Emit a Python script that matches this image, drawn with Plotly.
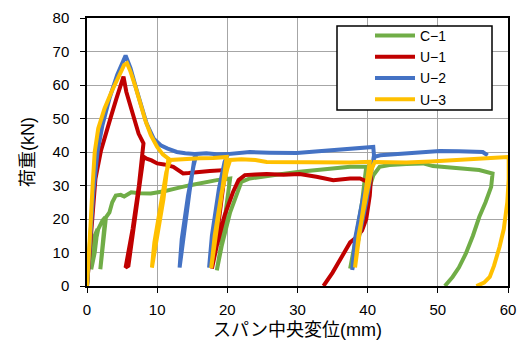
import plotly.graph_objects as go

# ---- data ----
c1_x = [0, 0.3, 0.9, 1.5, 1.1, 0.6, 1.0, 1.6, 2.2, 2.6, 2.3, 1.9, 2.2, 2.7, 3.2, 3.6, 4.1, 4.8, 5.3, 6.3, 7.5, 9.1,
        11.0, 11.85, 13.0, 14.7, 16.5, 18.5, 20.4,
        19.8, 19.1, 18.5, 19.2, 20.4, 22.0, 23.2, 25.0, 27.0, 30.3, 32.7, 35.0, 37.5, 39.8,
        39.2, 38.3, 37.5, 38.3, 39.6, 40.8, 41.7, 43.1, 45.5, 47.9, 49.3, 52.6, 55.9, 57.8,
        57.6, 56.8, 55.9, 55.0, 54.0, 53.0, 52.1, 51.0]
c1_y = [0, 8, 14, 17, 10, 5, 11, 17, 19.5, 20.5, 14, 5, 12, 20.5, 22, 25, 27, 27.2, 26.7, 28, 27.7, 27.6,
        28.3, 28.6, 29.3, 30.1, 30.9, 31.6, 32.1,
        22, 12, 4.7, 12, 22, 31.1, 32.1, 32.7, 33.2, 34.1, 34.6, 35.0, 35.6, 35.6,
        25, 14, 5.2, 14, 25, 33, 35.6, 36.1, 36.4, 36.6, 35.8, 35.1, 34.6, 33.6,
        29.6, 25, 20.6, 15, 9.7, 5.5, 2.7, 0]

u1_x = [0, 0.3, 0.7, 1.2, 2.0, 2.7, 3.4, 4.2, 5.07, 5.2, 5.6, 6.2, 6.8, 7.35, 8.05,
        7.4, 6.5, 5.5, 5.9, 6.8, 7.5, 8.05, 8.5, 9.2, 10.0, 11.0, 12.3, 13.0, 13.7, 14.5, 15.6, 17.5, 19.7,
        19.1, 18.4, 17.8, 18.5, 19.6, 20.8, 21.6, 22.5, 24.0, 25.6, 28.0, 30.3, 32.7, 35.1, 37.5, 38.9, 40.0,
        40.5, 40.3, 39.8, 39.2, 38.4, 37.5, 36.0, 35.0, 33.7]
u1_y = [0, 8, 20, 32, 40.5, 46, 50.5, 56, 61, 62.5, 58, 53.5, 49, 45.5, 42.6,
        30, 17, 5.5, 6, 20, 31, 38.6, 38, 37.5, 36.6, 36.3, 35.6, 34.5, 33.6, 33.7, 34, 34.3, 34.6,
        24, 13, 5.2, 12, 21, 28, 31.6, 33.1, 33.3, 33.4, 33.2, 33.4, 32.6, 31.6, 32.1, 32.1, 31.1,
        33, 27, 20, 16.6, 14.5, 13.0, 7.7, 4, 0]

u2_x = [0, 0.4, 0.9, 1.5, 2.2, 3.2, 4.3, 5.5, 6.2, 7.0, 7.8, 8.5, 9.5, 10.5, 11.5, 12.8, 14.0, 15.4,
        14.6, 13.8, 13.2, 13.5, 14.4, 15.2, 15.6, 17.0, 18.5, 19.9,
        19.0, 18.1, 17.4, 17.8, 18.8, 19.6, 20.1, 21.5, 23.2, 26.0, 29.9, 33.0, 35.0, 37.5, 39.0, 40.8, 40.9,
        39.8, 38.6, 37.8, 38.2, 39.4, 40.6, 41.0, 41.8, 43.5, 45.5, 48.0, 50.3, 53.0, 56.4, 57.1]
u2_y = [0, 12, 28, 40, 48, 56, 63, 68.8, 65, 59, 53, 48.5, 44, 42, 41, 40, 39.6, 39.4,
        28, 15, 5.5, 14, 27, 36, 39.4, 39.6, 39.3, 39.4,
        26, 14, 5.5, 15, 29, 37, 39.4, 39.6, 40, 39.8, 39.7, 40.2, 40.5, 41.1, 41.2, 41.5, 39,
        25, 13, 4.8, 14, 27, 36, 38.6, 39, 39.3, 39.6, 40, 40.3, 40.2, 40, 39]

u3_x = [0, 0.2, 0.5, 0.8, 1.1, 1.6, 2.5, 3.5, 4.5, 5.3, 5.7, 6.2, 6.9, 7.6, 8.3, 9.1, 10.0, 10.8, 11.6,
        10.9, 10.0, 9.25, 9.6, 10.5, 11.3, 11.85, 13.0, 16.1, 18.0, 19.9,
        19.1, 18.3, 17.7, 18.2, 19.2, 20.0, 20.4, 22.0, 24.0, 25.6, 30.0, 35.0, 37.5, 40.3,
        39.5, 38.8, 38.2, 38.7, 39.8, 40.6, 41.0, 43.0, 45.5, 49.0, 52.6, 56.0, 59.7, 60.1,
        60.1, 59.9, 59.4, 58.8, 58.0, 57.4, 56.6, 55.5]
u3_y = [0, 6, 18, 30, 40, 47, 53, 58, 62.5, 66, 66.5, 64, 59.5, 54, 49.5, 45, 41.5, 39.3, 38,
        26, 14, 5.5, 13, 25, 34, 37.6, 37.8, 38.1, 38.2, 38.5,
        26, 14, 5.3, 15, 28, 35, 37.6, 37.8, 37.6, 37, 36.9, 36.8, 36.9, 37.1,
        26, 15, 5.5, 15, 27, 35, 37, 36.9, 36.9, 37.2, 37.6, 37.9, 38.4, 38.5,
        32, 25, 17, 11.7, 6, 2.7, 1, 0]

names = ["C\u22121", "U\u22121", "U\u22122", "U\u22123"]
colors = ["#70AD47", "#C00000", "#4472C4", "#FFC000"]
series = [(c1_x, c1_y), (u1_x, u1_y), (u2_x, u2_y), (u3_x, u3_y)]

x_ticks = [0, 10, 20, 30, 40, 50, 60]
y_ticks = [0, 10, 20, 30, 40, 50, 60, 70, 80]

fig = go.Figure()
for (xs, ys), nm, col in zip(series, names, colors):
    fig.add_trace(go.Scatter(x=xs, y=ys, mode="lines", name=nm,
                             line=dict(color=col, width=4)))

FONT = "Liberation Sans, Arial, Noto Sans CJK JP"
L, R, T, B = 87, 13, 18, 56
W, H = 521, 342
pw = W - L - R
ph = H - T - B

def px2x(px):
    return (px - L) / pw

def py2y(py):
    return (H - B - py) / ph

fig.update_layout(
    width=W, height=H,
    margin=dict(l=L, r=R, t=T, b=B, autoexpand=False),
    paper_bgcolor="white", plot_bgcolor="white",
    font=dict(family=FONT, size=14, color="black"),
    showlegend=True,
    legend=dict(x=px2x(370), y=py2y(20), xanchor="left", yanchor="top",
                bgcolor="rgba(0,0,0,0)", borderwidth=0,
                font=dict(family=FONT, size=14, color="black"),
                itemwidth=40, tracegroupgap=0),
    shapes=[dict(type="rect", xref="paper", yref="paper",
                 x0=px2x(337), x1=px2x(492), y0=py2y(110), y1=py2y(26),
                 line=dict(color="black", width=1.5), fillcolor="white", layer="above")],
)
fig.update_xaxes(range=[0, 60], tickvals=x_ticks, ticks="outside", ticklen=5,
                 tickcolor="black", showline=True, linecolor="black", linewidth=1.5, mirror=True,
                 showgrid=True, gridcolor="#a6a6a6", gridwidth=1, zeroline=False,
                 tickfont=dict(size=15), ticklabelstandoff=4,
                 title=dict(text="スパン中央変位(mm)", font=dict(size=18), standoff=7))
fig.update_yaxes(range=[0, 80], tickvals=y_ticks, ticks="outside", ticklen=5,
                 tickcolor="black", showline=True, linecolor="black", linewidth=1.5, mirror=True,
                 showgrid=True, gridcolor="#a6a6a6", gridwidth=1, zeroline=False,
                 tickfont=dict(size=15), ticklabelstandoff=8,
                 title=dict(text="荷重(kN)", font=dict(size=18), standoff=13))

fig.write_html("out.html", config={"displayModeBar": False},
               post_script="document.body.style.margin='0';")
